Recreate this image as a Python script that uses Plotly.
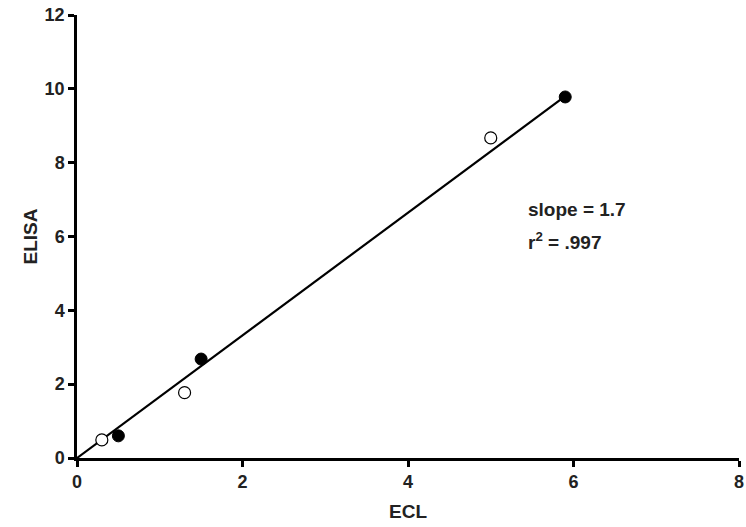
import plotly.graph_objects as go

# Data
filled_x = [0.5, 1.5, 5.9]
filled_y = [0.6, 2.68, 9.78]
open_x = [0.3, 1.3, 5.0]
open_y = [0.49, 1.77, 8.67]
fit_x = [0.0, 5.9]
fit_y = [0.0, 9.8]
x_ticks = [0, 2, 4, 6, 8]
y_ticks = [0, 2, 4, 6, 8, 10, 12]

FONT = "Liberation Sans"
TXT = "#222222"

fig = go.Figure()
fig.add_trace(go.Scatter(x=fit_x, y=fit_y, mode="lines",
                         line=dict(color="black", width=2.2), showlegend=False,
                         cliponaxis=False))
fig.add_trace(go.Scatter(x=open_x, y=open_y, mode="markers",
                         marker=dict(size=12, color="white", line=dict(color="black", width=1.2)),
                         showlegend=False, cliponaxis=False))
fig.add_trace(go.Scatter(x=filled_x, y=filled_y, mode="markers",
                         marker=dict(size=12, color="black", line=dict(color="black", width=1)),
                         showlegend=False, cliponaxis=False))

fig.add_annotation(x=5.42, y=6.74, xref="x", yref="y", text="<b>slope = 1.7</b>",
                   showarrow=False, xanchor="left", yanchor="middle",
                   font=dict(family=FONT, size=19, color=TXT))
fig.add_annotation(x=5.42, y=5.87, xref="x", yref="y", text="<b>r<sup>2</sup> = .997</b>",
                   showarrow=False, xanchor="left", yanchor="middle",
                   font=dict(family=FONT, size=19, color=TXT))

fig.update_xaxes(range=[0, 8], tickmode="array", tickvals=x_ticks,
                 ticktext=["<b>%d</b>" % v for v in x_ticks],
                 tickfont=dict(family=FONT, size=18, color=TXT),
                 ticklabeloverflow="allow",
                 showline=True, linecolor="black", linewidth=2.5, ticks="outside",
                 tickwidth=2.5, ticklen=6, tickcolor="black", showgrid=False, zeroline=False,
                 automargin=False,
                 title=dict(text="<b>ECL</b>", font=dict(family=FONT, size=19, color=TXT), standoff=14))
fig.update_yaxes(range=[0, 12], tickmode="array", tickvals=y_ticks,
                 ticktext=["<b>%d</b>" % v for v in y_ticks],
                 tickfont=dict(family=FONT, size=18, color=TXT),
                 ticklabeloverflow="allow",
                 showline=True, linecolor="black", linewidth=2.5, ticks="outside",
                 tickwidth=2.5, ticklen=6, tickcolor="black", showgrid=False, zeroline=False,
                 automargin=False,
                 title=dict(text="<b>ELISA</b>", font=dict(family=FONT, size=19, color=TXT), standoff=2))

fig.update_layout(width=746, height=527, plot_bgcolor="white", paper_bgcolor="white",
                  margin=dict(l=77, r=7, t=15, b=69, autoexpand=False),
                  font=dict(family=FONT, size=16, color=TXT))

fig.write_html("out.html", config={"displayModeBar": False},
               post_script="document.body.style.margin='0';")
